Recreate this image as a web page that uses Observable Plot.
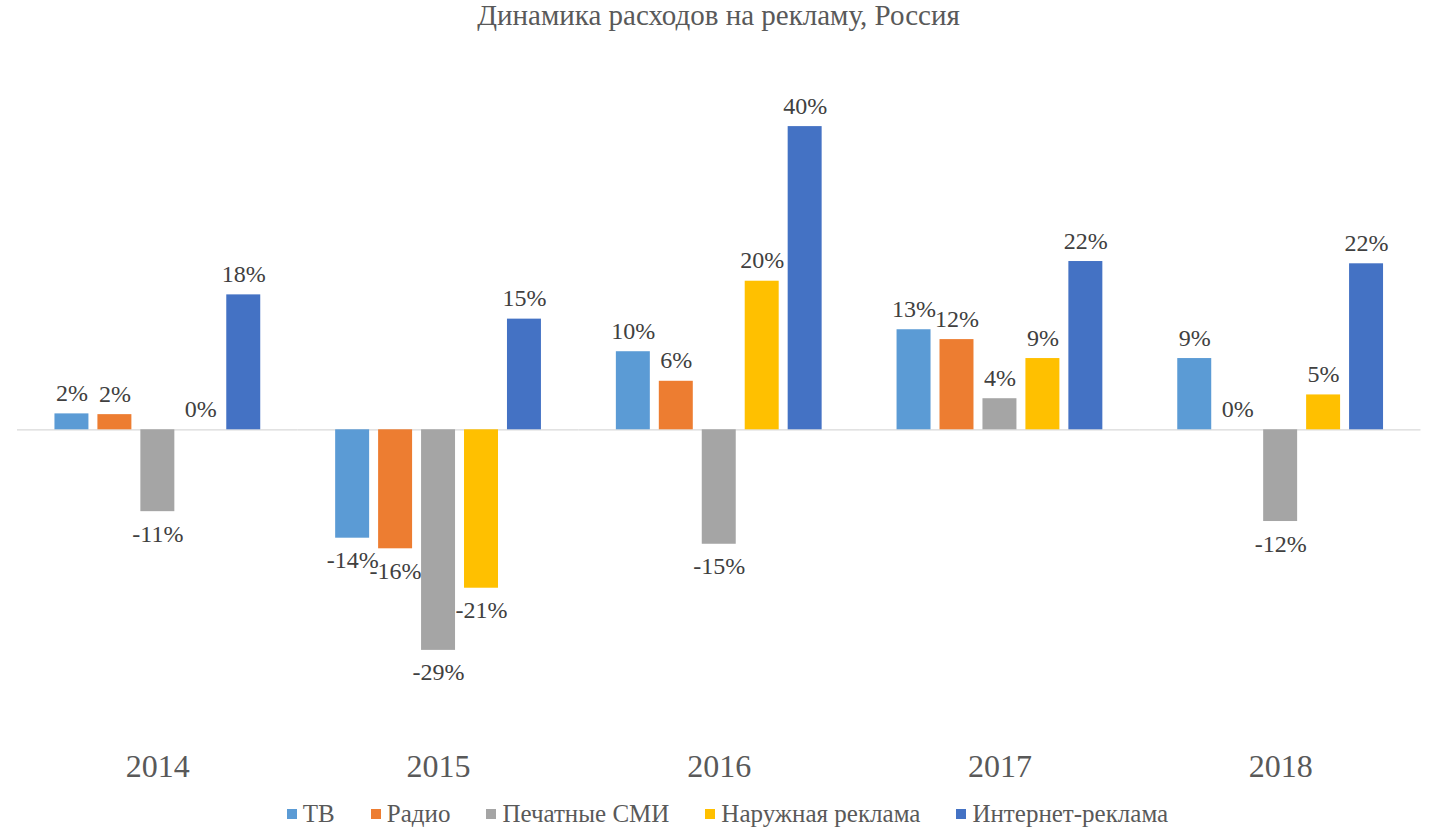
<!DOCTYPE html>
<html>
<head>
<meta charset="utf-8">
<script src="https://cdn.jsdelivr.net/npm/d3@7"></script>
<script src="https://cdn.jsdelivr.net/npm/@observablehq/plot@0.6"></script>
<style>
  html, body { margin: 0; padding: 0; background: #fff; }
  body { width: 1455px; height: 835px; overflow: hidden; font-family: "Liberation Serif", "Times New Roman", serif; }
  #title { height: 44px; line-height: 30px; text-align: center; font-size: 29px; color: #595959; padding-right: 18px; }
  #chart svg { display: block; }
  #legend { display: flex; justify-content: center; align-items: center; margin-top: 12px; font-size: 25px; color: #595959; gap: 36px; line-height: 26px; }
  #legend .item { display: flex; align-items: center; gap: 6px; }
  #legend .sw { width: 10px; height: 10px; display: inline-block; }
</style>
</head>
<body>
<div id="title">Динамика расходов на рекламу, Россия</div>
<div id="chart"></div>
<div id="legend"></div>
<script>
const years = ["2014", "2015", "2016", "2017", "2018"];
const series = ["ТВ", "Радио", "Печатные СМИ", "Наружная реклама", "Интернет-реклама"];
const colors = ["#5B9BD5", "#ED7D31", "#A5A5A5", "#FFC000", "#4472C4"];

// growth, % (bar heights; labels are rounded)
const tv       = [2.1, -14.3, 10.3, 13.2, 9.4];
const radio    = [2.0, -15.7, 6.4, 11.9, 0];
const printMed = [-10.8, -29.1, -15.1, 4.1, -12.1];
const outdoor  = [0, -20.9, 19.6, 9.4, 4.6];
const internet = [17.8, 14.6, 40, 22.2, 21.9];

const bySeries = [tv, radio, printMed, outdoor, internet];
const data = years.flatMap((year, i) => series.map((s, j) => ({year, series: s, value: bySeries[j][i]})));

const font = "Liberation Serif, Times New Roman, serif";

const chart = Plot.plot({
  width: 1455,
  height: 745,
  marginLeft: 17,
  marginRight: 34.5,
  marginTop: 0,
  marginBottom: 45,
  style: {fontFamily: font, background: "#fff"},
  fx: {domain: years, padding: 0, round: false, label: null, axis: null},
  x: {domain: series, paddingInner: 0.209, paddingOuter: 0.872, round: false, axis: null},
  y: {domain: [-40, 40], range: [688.5, 82.1], axis: null},
  color: {domain: series, range: colors},
  marks: [
    Plot.ruleY([0], {stroke: "#d9d9d9", strokeWidth: 1.2}),
    Plot.barY(data, {fx: "year", x: "series", y: "value", fill: "series"}),
    Plot.text(data, {
      filter: d => d.value >= 0,
      fx: "year", x: "series", y: "value",
      text: d => Math.round(d.value) + "%",
      lineAnchor: "bottom", dy: -13,
      fontSize: 24, fill: "#404040", fontFamily: font
    }),
    Plot.text(data, {
      filter: d => d.value < 0,
      fx: "year", x: "series", y: "value",
      text: d => Math.round(d.value) + "%",
      lineAnchor: "top", dy: 13,
      fontSize: 24, fill: "#404040", fontFamily: font
    }),
    Plot.text(years, {
      fx: d => d, text: d => d,
      frameAnchor: "bottom", lineAnchor: "top", dy: 10,
      fontSize: 32, fill: "#595959", fontFamily: font
    })
  ]
});
document.getElementById("chart").appendChild(chart);

const legend = document.getElementById("legend");
series.forEach((s, i) => {
  const item = document.createElement("div");
  item.className = "item";
  const sw = document.createElement("span");
  sw.className = "sw";
  sw.style.background = colors[i];
  const t = document.createElement("span");
  t.textContent = s;
  item.appendChild(sw);
  item.appendChild(t);
  legend.appendChild(item);
});
</script>
</body>
</html>
